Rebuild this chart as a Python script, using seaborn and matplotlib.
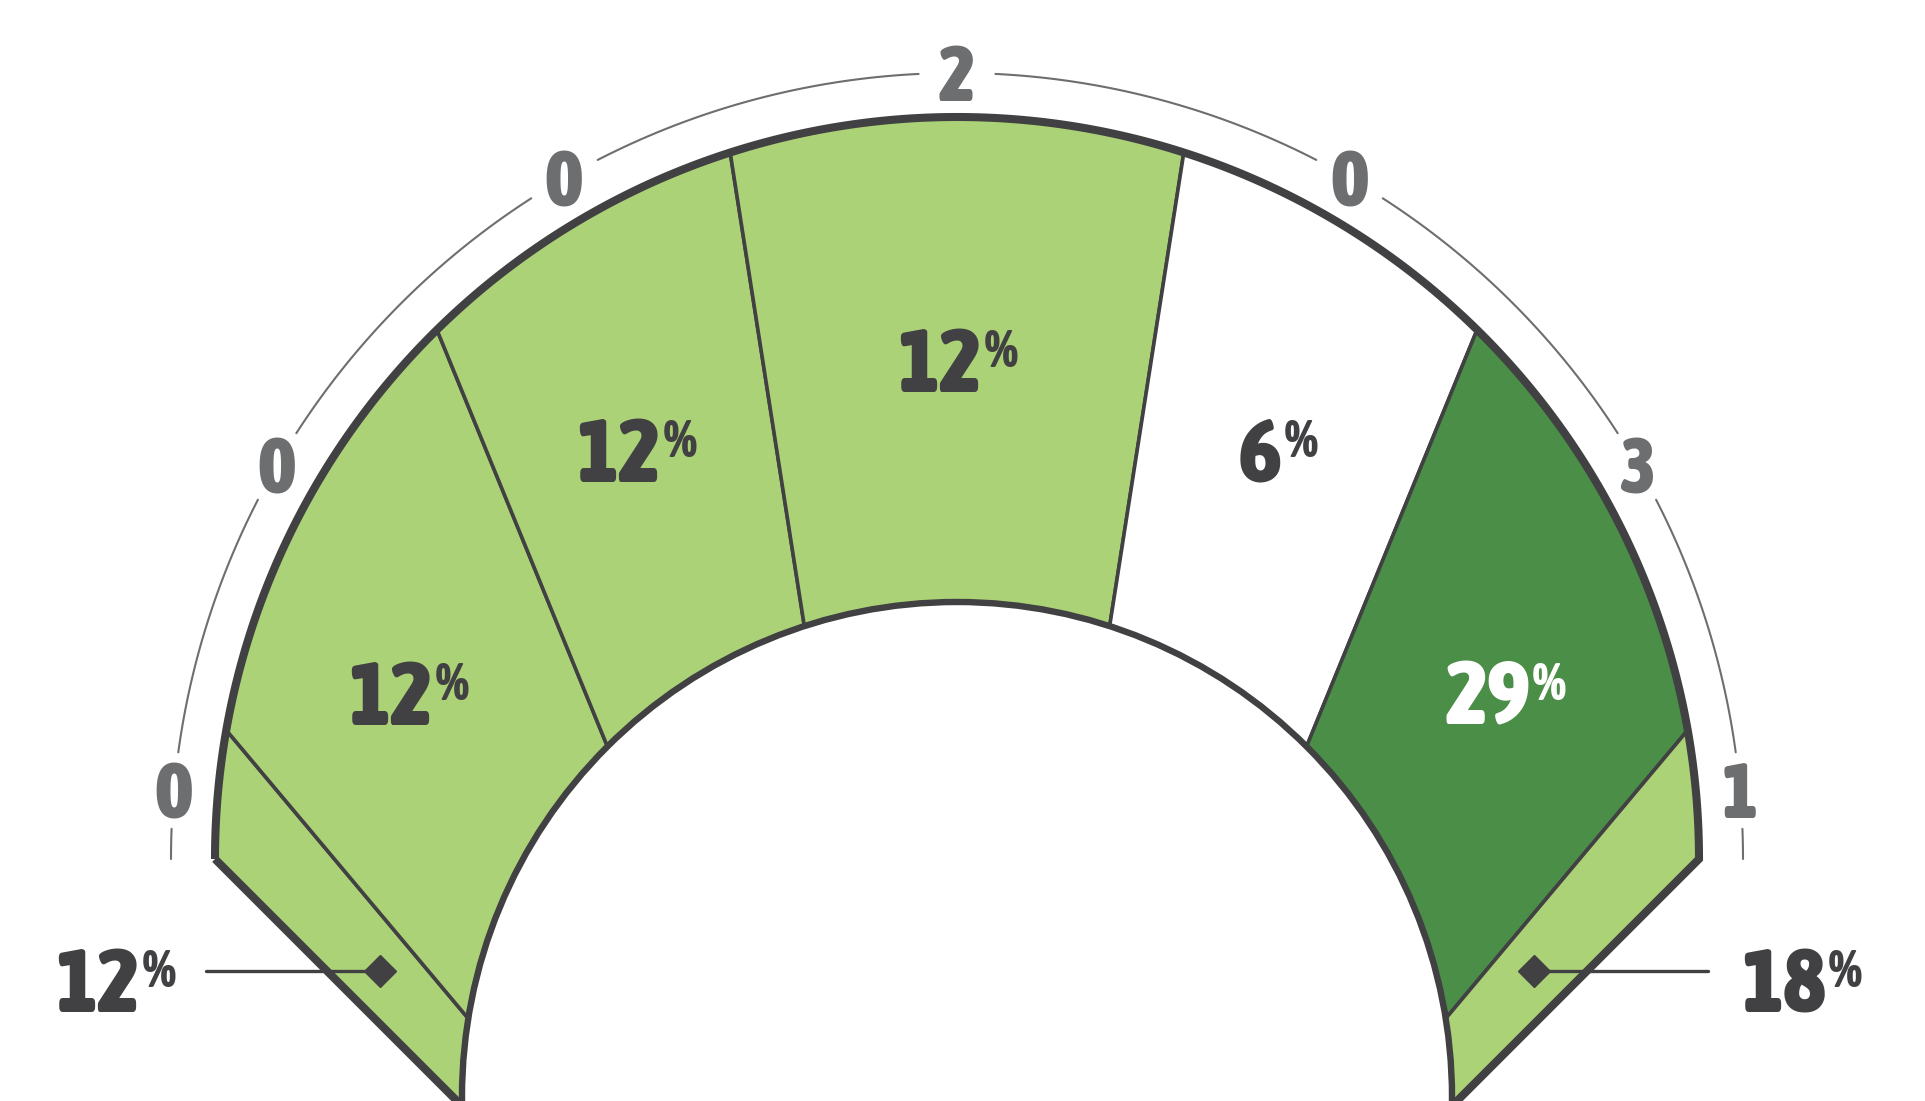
import os
import numpy as np
import matplotlib
matplotlib.use("Agg")
import matplotlib.pyplot as plt
import seaborn as sns
from matplotlib import font_manager as fm
from matplotlib.patches import Polygon, Circle

# data
pct = [12, 12, 12, 12, 6, 29, 18]
counts = [0, 0, 0, 2, 0, 3, 1]
tone = ["light", "light", "light", "light", "blank", "dark", "light"]

# layout, in pixels of the 1925x1101 picture (y grows downwards)
W, H = 1925, 1101
cx, cy, R = 957, 859, 742          # outer semicircle
icy, ir = 1097, 495                # inner hole
ax0, ay0 = cx, cy + R              # every divider starts from this point
edges = [180, 170, 134.5, 107.8, 72.2, 45.5, 10, 0]   # divider angles on the outer arc
tick_ang = [175, 150, 120, 90, 60, 30, 5]               # count labels around the ring
ring_r = 786
gap = 2.8

LIGHT = "#acd277"
DARK = "#4a8e47"
LINE = "#414042"
GRAY = "#6d6e70"
fills = {"light": LIGHT, "dark": DARK, "blank": "white"}

sns.set_theme(style="white")
plt.rcParams["font.family"] = ["DejaVu Sans"]


def weight_num(w):
    if isinstance(w, (int, float)):
        return int(w)
    return {"bold": 700, "heavy": 800, "black": 900, "extra bold": 800, "ultrabold": 800,
            "semibold": 600, "demibold": 600, "demi": 600}.get(str(w).lower(), 400)


# look for a bold condensed face, the chart uses one
def pick_font():
    best, best_score = None, -1
    for f in fm.fontManager.ttflist:
        nm = (f.name + " " + os.path.basename(f.fname)).lower()
        if "italic" in nm or "oblique" in nm or f.style != "normal":
            continue
        narrow = (f.stretch in ("condensed", "semi-condensed", "extra-condensed", "ultra-condensed")
                  or "condensed" in nm or "narrow" in nm)
        w = weight_num(f.weight)
        if not narrow or w < 700 or "cjk" in nm or "mono" in nm:
            continue
        score = w
        if score > best_score:
            best, best_score = f, score
    return best


ff = pick_font()
if ff is not None:
    fp = fm.FontProperties(fname=ff.fname)
    big, small, tick = 65, 38, 56
else:
    fp = fm.FontProperties(family="DejaVu Sans", weight="bold")
    big, small, tick = 50, 30, 46

fig = plt.figure(figsize=(W / 100, H / 100), dpi=100)
ax = fig.add_axes([0, 0, 1, 1])
ax.set_xlim(0, W)
ax.set_ylim(H, 0)
ax.axis("off")


def outer_pt(a):
    a = np.radians(a)
    return cx + R * np.cos(a), cy - R * np.sin(a)


def ray_ang(a):
    x, y = outer_pt(a)
    return np.degrees(np.arctan2(ay0 - y, x - ax0))


def along(m, t):
    m = np.radians(m)
    return ax0 + t * np.cos(m), ay0 - t * np.sin(m)


def t_out(m):
    return 2 * R * np.sin(np.radians(m))


def t_in(m):
    d0 = ay0 - icy
    s = d0 * np.sin(np.radians(m))
    return s + np.sqrt(s * s - d0 * d0 + ir * ir)


def cap(fs):
    return fs * 100 / 72 * 0.72


# outline of the ring (semicircle closed by the two diagonals)
th = np.linspace(180, 0, 400)
verts = [outer_pt(a) for a in th] + [(ax0, ay0)]
shape = Polygon(verts, closed=True, facecolor="none", edgecolor=LINE, lw=5.8,
                joinstyle="miter", zorder=4)
ax.add_patch(shape)

# segments
rays = [ray_ang(a) for a in edges]
for i in range(len(pct)):
    p0 = along(rays[i], 3000)
    p1 = along(rays[i + 1], 3000)
    w = Polygon([(ax0, ay0), p0, p1], closed=True, facecolor=fills[tone[i]],
                edgecolor=LINE, lw=2.6, zorder=1)
    ax.add_patch(w)
    w.set_clip_path(shape)

ax.add_patch(Circle((cx, icy), ir, facecolor="white", edgecolor=LINE, lw=4.6, zorder=3))

# count labels with the thin ring broken around them
bounds = [180] + [b for a in tick_ang for b in (a + gap, a - gap)] + [0]
for k in range(0, len(bounds), 2):
    a = np.radians(np.linspace(bounds[k], bounds[k + 1], 100))
    ax.plot(cx + ring_r * np.cos(a), cy - ring_r * np.sin(a), color=GRAY, lw=1.5, zorder=2)
for a, c in zip(tick_ang, counts):
    x = cx + ring_r * np.cos(np.radians(a))
    y = cy - ring_r * np.sin(np.radians(a))
    ax.text(x, y + cap(tick) / 2, str(c), fontproperties=fp, fontsize=tick, color=GRAY,
            ha="center", va="baseline", zorder=5)

# percentage labels: big digits with a small raised %
groups = []


def pct_label(x, y, v, color, align):
    t1 = ax.text(x, y, str(v), fontproperties=fp, fontsize=big, color=color,
                 ha="right", va="baseline", zorder=6)
    t2 = ax.text(x + 3, y - cap(big), "%", fontproperties=fp, fontsize=small, color=color,
                 ha="left", va="top", zorder=6)
    groups.append((t1, t2, x, align))


for i in range(1, len(pct) - 1):
    m = (rays[i] + rays[i + 1]) / 2
    t = (t_in(m) + t_out(m)) / 2
    x, y = along(m, t)
    col = "white" if tone[i] == "dark" else LINE
    pct_label(x, y + cap(big) / 2, pct[i], col, "center")

# edge segments get a callout line with a diamond
for i, side in ((0, -1), (len(pct) - 1, 1)):
    m = (rays[i] + rays[i + 1]) / 2
    t = t_in(m) + 0.34 * (t_out(m) - t_in(m))
    x, y = along(m, t)
    x_end = x + side * 174
    ax.plot([x, x_end], [y, y], color=LINE, lw=2.4, zorder=6)
    ax.plot([x], [y], marker="D", ms=16, color=LINE, zorder=6)
    if side < 0:
        pct_label(x_end - 30, y + cap(big) * 0.63, pct[i], LINE, "right")
    else:
        pct_label(x_end + 33, y + cap(big) * 0.63, pct[i], LINE, "left")

# shift each label so the digits and % sit as one block
fig.canvas.draw()
inv = ax.transData.inverted()
for t1, t2, x, align in groups:
    b1 = t1.get_window_extent()
    b2 = t2.get_window_extent()
    left = inv.transform((b1.x0, 0))[0]
    right = inv.transform((b2.x1, 0))[0]
    if align == "center":
        dx = x - (left + right) / 2
    elif align == "right":
        dx = x - right
    else:
        dx = x - left
    for t in (t1, t2):
        px, py = t.get_position()
        t.set_position((px + dx, py))

fig.savefig("out.png", dpi=100)
